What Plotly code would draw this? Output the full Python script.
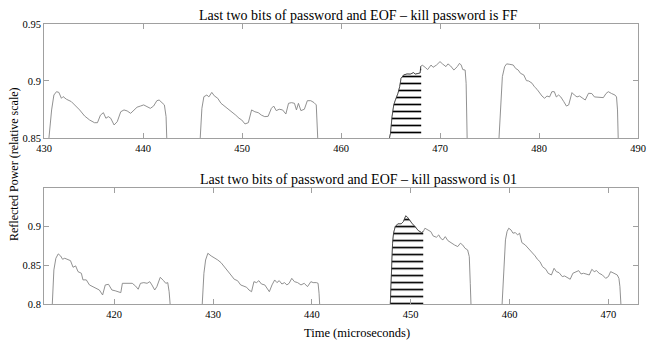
import numpy as np
import plotly.graph_objects as go

# ---------------- data ----------------
# Top panel: kill password FF
top_time = [
    430.5, 430.77, 431.0, 431.26, 431.5, 431.76, 431.93, 432.26, 432.76, 433.1, 433.6, 434.1, 434.6,
    435.1, 435.4, 435.7, 436.0, 436.25, 436.5, 436.74, 437.08, 437.4, 437.75, 438.08, 438.4, 438.75,
    439.07, 439.4, 439.74, 440.07, 440.4, 440.74, 441.07, 441.4, 441.63, 441.96, 442.16, 442.33, 442.4,
    None,
    445.78, 445.95, 446.15, 446.45, 446.65, 446.95, 447.2, 447.55, 447.88, 448.37, 448.7, 449.04, 449.37,
    449.7, 449.97, 450.3, 450.64, 450.97, 451.3, 451.64, 451.97, 452.3, 452.64, 452.97, 453.2, 453.46,
    453.76, 454.1, 454.43, 454.7, 455.0, 455.3, 455.5, 455.7, 455.95, 456.3, 456.6, 456.95, 457.28,
    457.5, 457.58, 457.65,
    None,
    464.9, 465.0, 465.16, 465.33, 465.5, 465.76, 465.93, 466.07, 466.33, 466.67, 467.0, 467.33, 467.5,
    467.83, 468.0, 468.05, 468.2, 468.5, 468.75, 469.1, 469.3, 469.65, 470.0, 470.25, 470.6, 470.8,
    471.07, 471.4, 471.75, 471.97, 472.14, 472.3, 472.54, 472.64, 472.74,
    None,
    475.96, 476.13, 476.3, 476.53, 476.73, 477.06, 477.4, 477.64, 477.9, 478.13, 478.46, 478.73, 478.96,
    479.3, 479.53, 479.8, 480.07, 480.3, 480.57, 480.8, 481.07, 481.3, 481.55, 481.75, 481.98, 482.2,
    482.5, 482.77, 483.0, 483.33, 483.57, 483.84, 484.1, 484.33, 484.67, 485.0, 485.33, 485.6, 485.9,
    486.23, 486.5, 486.77, 487.0, 487.33, 487.67, 487.83, 487.93, 488.0,
]
top_power = [
    0.85, 0.8746, 0.8877, 0.8906, 0.890, 0.8848, 0.8863, 0.884, 0.8819, 0.879, 0.8746, 0.8693, 0.8658,
    0.8634, 0.8634, 0.870, 0.8722, 0.8673, 0.8687, 0.8673, 0.8614, 0.8643, 0.873, 0.8746, 0.8737, 0.8716,
    0.8746, 0.877, 0.878, 0.879, 0.8775, 0.876, 0.878, 0.8827, 0.8833, 0.881, 0.879, 0.8687, 0.85,
    None,
    0.85, 0.876, 0.8862, 0.8877, 0.886, 0.890, 0.887, 0.8848, 0.8804, 0.877, 0.8746, 0.873, 0.870,
    0.8673, 0.8658, 0.8623, 0.8634, 0.8746, 0.873, 0.8722, 0.870, 0.8687, 0.869, 0.876, 0.878, 0.874,
    0.8752, 0.8746, 0.871, 0.8804, 0.881, 0.8804, 0.8746, 0.8804, 0.874, 0.8752, 0.8827, 0.8827, 0.881,
    0.879, 0.8687, 0.85,
    None,
    0.85, 0.854, 0.8687, 0.879, 0.8833, 0.8892, 0.895, 0.9023, 0.9053, 0.9061, 0.906, 0.9073, 0.906,
    0.907, 0.907, 0.9126, 0.914, 0.912, 0.910, 0.914, 0.912, 0.914, 0.917, 0.915, 0.9126, 0.915,
    0.9132, 0.9096, 0.9126, 0.9155, 0.914, 0.910, 0.9096, 0.898, 0.85,
    None,
    0.85, 0.8833, 0.9038, 0.9126, 0.915, 0.9146, 0.914, 0.911, 0.9096, 0.9067, 0.9053, 0.9003, 0.900,
    0.898, 0.895, 0.8927, 0.889, 0.8868, 0.8848, 0.8868, 0.886, 0.8906, 0.8906, 0.886, 0.8877, 0.886,
    0.8819, 0.878, 0.879, 0.8898, 0.8877, 0.886, 0.8868, 0.8854, 0.8833, 0.8892, 0.889, 0.886, 0.886,
    0.8857, 0.8854, 0.889, 0.8906, 0.889, 0.8877, 0.886, 0.8746, 0.85,
]

# Bottom panel: kill password 01
bottom_time = [
    413.74, 413.9, 414.1, 414.34, 414.58, 414.78, 415.0, 415.34, 415.58, 415.84, 416.1, 416.34, 416.68,
    416.84, 417.18, 417.5, 417.84, 418.17, 418.5, 418.83, 419.1, 419.43, 419.77, 420.1, 420.43, 420.67,
    420.83, 421.17, 421.5, 421.83, 422.17, 422.43, 422.66, 423.0, 423.33, 423.6, 423.82, 424.1, 424.32,
    424.66, 425.0, 425.22, 425.42, 425.56, 425.66,
    None,
    428.91, 429.08, 429.25, 429.48, 429.81, 430.15, 430.48, 430.81, 431.15, 431.48, 431.81, 432.15,
    432.48, 432.8, 433.15, 433.4, 433.64, 433.9, 434.14, 434.4, 434.64, 434.9, 435.24, 435.47, 435.7,
    435.97, 436.24, 436.47, 436.7, 436.97, 437.24, 437.47, 437.7, 437.97, 438.24, 438.56, 438.9, 439.23,
    439.56, 439.9, 440.13, 440.46, 440.63, 440.73, 440.79,
    None,
    447.94, 448.04, 448.17, 448.27, 448.44, 448.7, 449.04, 449.27, 449.5, 449.67, 449.94, 450.17, 450.44,
    450.77, 451.1, 451.27, 451.44, 451.77, 452.04, 452.27, 452.6, 452.84, 453.03, 453.26, 453.5, 453.76,
    454.1, 454.43, 454.76, 455.03, 455.26, 455.5, 455.76, 455.93, 456.03, 456.1,
    None,
    459.25, 459.42, 459.59, 459.75, 459.92, 460.15, 460.35, 460.59, 460.82, 461.02, 461.25, 461.59,
    461.92, 462.25, 462.59, 462.82, 463.08, 463.34, 463.68, 463.91, 464.24, 464.51, 464.74, 465.01,
    465.34, 465.58, 465.91, 466.14, 466.41, 466.74, 467.0, 467.24, 467.48, 467.74, 468.07, 468.33,
    468.57, 468.8, 469.07, 469.4, 469.73, 470.0, 470.23, 470.57, 470.9, 471.07, 471.17, 471.27,
]
bottom_power = [
    0.80, 0.8438, 0.8588, 0.8644, 0.8618, 0.8575, 0.8588, 0.8566, 0.8557, 0.8472, 0.849, 0.8416, 0.8395,
    0.831, 0.831, 0.8245, 0.8223, 0.820, 0.818, 0.8116, 0.8245, 0.8253, 0.818, 0.817, 0.8158, 0.8146,
    0.8266, 0.8266, 0.8257, 0.8266, 0.823, 0.819, 0.8266, 0.8275, 0.8266, 0.8287, 0.8245, 0.818, 0.8223,
    0.8343, 0.830, 0.8266, 0.8275, 0.8158, 0.80,
    None,
    0.80, 0.8395, 0.8566, 0.8652, 0.8618, 0.8596, 0.8566, 0.8532, 0.848, 0.8438, 0.8373, 0.8318,
    0.830, 0.8245, 0.8223, 0.8215, 0.818, 0.8158, 0.8287, 0.8275, 0.830, 0.8257, 0.8245, 0.820, 0.8158,
    0.8245, 0.8309, 0.8275, 0.830, 0.8257, 0.8275, 0.8245, 0.8266, 0.833, 0.8287, 0.8275, 0.8245, 0.8266,
    0.8223, 0.8287, 0.8275, 0.8275, 0.8266, 0.8138, 0.80,
    None,
    0.80, 0.848, 0.8781, 0.891, 0.8995, 0.903, 0.903, 0.906, 0.9133, 0.9116, 0.906, 0.903, 0.8995,
    0.8943, 0.8918, 0.893, 0.8974, 0.8952, 0.893, 0.8875, 0.8858, 0.8888, 0.8845, 0.8824, 0.8866, 0.8815,
    0.8781, 0.8759, 0.8738, 0.8781, 0.8759, 0.8716, 0.8695, 0.8609, 0.8266, 0.80,
    None,
    0.80, 0.8438, 0.8824, 0.893, 0.8974, 0.8952, 0.891, 0.8918, 0.8888, 0.891, 0.8789, 0.8759,
    0.8716, 0.866, 0.8618, 0.8575, 0.8544, 0.848, 0.8446, 0.8395, 0.8373, 0.8459, 0.8416, 0.8403,
    0.8352, 0.836, 0.833, 0.8318, 0.8395, 0.8416, 0.8429, 0.8386, 0.8395, 0.8386, 0.8373, 0.8446,
    0.8416, 0.8429, 0.8395, 0.8373, 0.833, 0.8352, 0.8416, 0.8395, 0.8373, 0.833, 0.8223, 0.80,
]

# hatched (last two bits) intervals, microseconds
top_hatch = [464.9, 468.1]
bottom_hatch = [447.94, 451.27]

top_title = "Last two bits of password and EOF \u2013 kill password is FF"
bottom_title = "Last two bits of password and EOF \u2013 kill password is 01"
x_label = "Time (microseconds)"
y_label = "Reflected Power (relative scale)"

top_xticks = [430, 440, 450, 460, 470, 480, 490]
top_yticks = [0.85, 0.9, 0.95]
top_yticklabels = ["0.85", "0.9", "0.95"]
bottom_xticks = [420, 430, 440, 450, 460, 470]
bottom_yticks = [0.8, 0.85, 0.9]
bottom_yticklabels = ["0.8", "0.85", "0.9"]

# ---------------- figure ----------------
FONT = "Liberation Serif"
LINE = "#858585"
AX = "#a0a0a0"
PAGE_OFFSET = 8  # default body margin of the html page


def hatch_segment(times, powers, span):
    t = np.array([np.nan if v is None else v for v in times], dtype=float)
    p = np.array([np.nan if v is None else v for v in powers], dtype=float)
    ok = ~np.isnan(t)
    t, p = t[ok], p[ok]
    sel = (t >= span[0]) & (t <= span[1])
    ts = list(t[sel])
    ps = list(p[sel])
    if ts[-1] < span[1]:
        after = t >= span[0]
        ts.append(span[1])
        ps.append(float(np.interp(span[1], t[after], p[after])))
    return ts, ps


fig = go.Figure()

for (times, powers, span, xa, ya) in [
    (top_time, top_power, top_hatch, "x", "y"),
    (bottom_time, bottom_power, bottom_hatch, "x2", "y2"),
]:
    fig.add_trace(go.Scatter(
        x=times, y=powers, xaxis=xa, yaxis=ya, mode="lines",
        line=dict(color=LINE, width=0.9), connectgaps=False,
        showlegend=False,
    ))
    ht, hp = hatch_segment(times, powers, span)
    fig.add_trace(go.Scatter(
        x=ht, y=hp, xaxis=xa, yaxis=ya, mode="lines",
        line=dict(color="#333333", width=0.8),
        fill="tozeroy", fillcolor="white",
        fillpattern=dict(shape="-", size=7, solidity=0.24, fgcolor="black",
                         fgopacity=1, bgcolor="white", fillmode="replace"),
        hoverinfo="skip", showlegend=False,
    ))

axis_common = dict(
    showline=True, linecolor=AX, linewidth=1, mirror="ticks",
    ticks="inside", ticklen=5, tickcolor=AX, tickwidth=1,
    showgrid=False, zeroline=False,
    tickfont=dict(family=FONT, size=10.5, color="black"),
)

fig.update_layout(
    width=656 - PAGE_OFFSET, height=344 - PAGE_OFFSET,
    margin=dict(l=44 - PAGE_OFFSET, r=10, t=24 - PAGE_OFFSET, b=40),
    paper_bgcolor="white", plot_bgcolor="white",
    xaxis=dict(domain=[0, 1], range=[430, 490], tickvals=top_xticks, anchor="y", **axis_common),
    yaxis=dict(domain=[0.593, 1], range=[0.85, 0.95], tickvals=top_yticks,
               ticktext=top_yticklabels, anchor="x", **axis_common),
    xaxis2=dict(domain=[0, 1], range=[412.9, 473.0], tickvals=bottom_xticks, anchor="y2", **axis_common),
    yaxis2=dict(domain=[0, 0.414], range=[0.8, 0.949], tickvals=bottom_yticks,
                ticktext=bottom_yticklabels, anchor="x2", **axis_common),
    showlegend=False,
)

ttl = dict(family=FONT, size=14, color="black")
fig.add_annotation(text=top_title, xref="paper", yref="paper", x=0.53, y=1.0, yshift=0,
                   borderpad=0, xanchor="center", yanchor="bottom", showarrow=False, font=ttl)
fig.add_annotation(text=bottom_title, xref="paper", yref="paper", x=0.53, y=0.414, yshift=0,
                   borderpad=0, xanchor="center", yanchor="bottom", showarrow=False, font=ttl)
fig.add_annotation(text=x_label, xref="paper", yref="paper", x=0.527, y=0, yshift=-20,
                   xanchor="center", yanchor="top", showarrow=False,
                   font=dict(family=FONT, size=12.5, color="black"))
fig.add_annotation(text=y_label, xref="paper", yref="paper", x=0, xshift=-39, y=0.5,
                   xanchor="left", yanchor="middle", textangle=-90, showarrow=False,
                   font=dict(family=FONT, size=12, color="black"))

fig.write_html("out.html")
